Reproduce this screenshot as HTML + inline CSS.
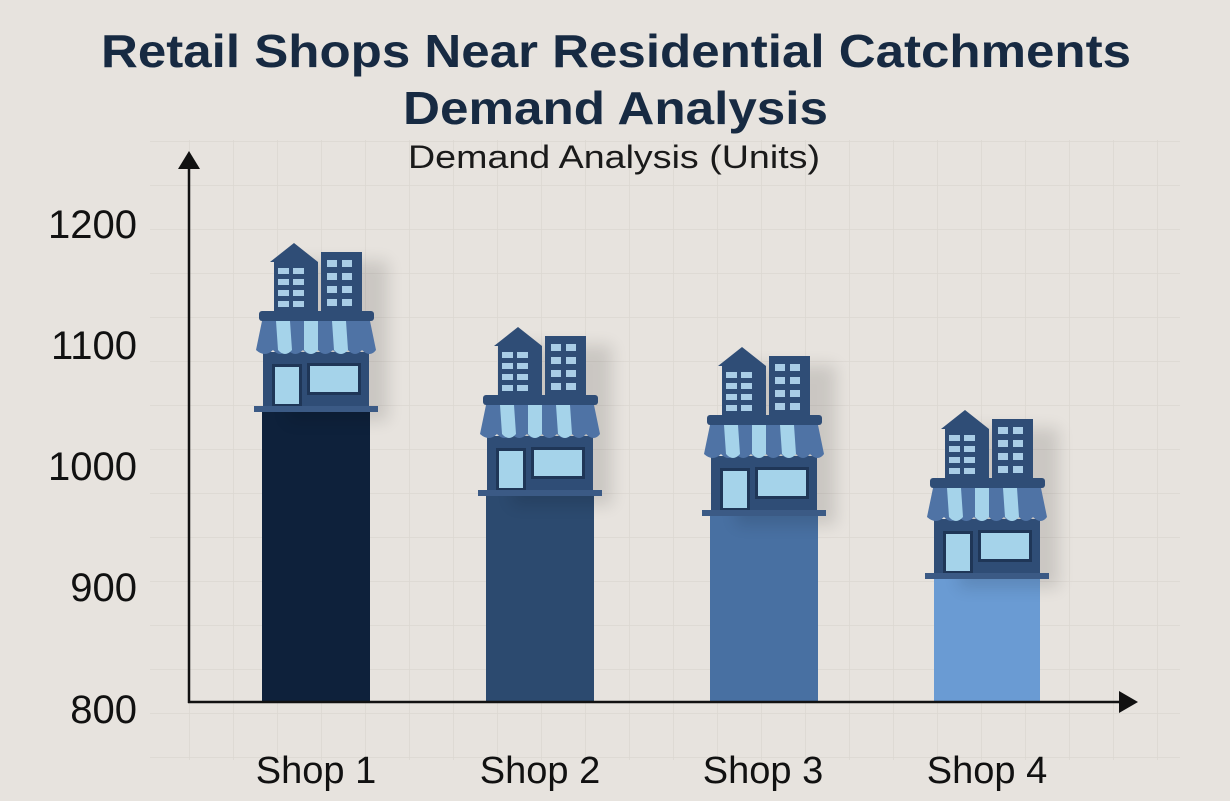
<!DOCTYPE html>
<html><head><meta charset="utf-8"><style>
html,body{margin:0;padding:0;background:#e7e3de;}
svg{display:block;font-family:"Liberation Sans","DejaVu Sans",sans-serif;}
</style></head><body>
<svg width="1230" height="801" viewBox="0 0 1230 801" xmlns="http://www.w3.org/2000/svg">
<defs>
<pattern id="grid" width="44" height="44" patternUnits="userSpaceOnUse" x="14" y="10">
<path d="M44 0V44M0 44H44" fill="none" stroke="#dcd7d1" stroke-width="1.5"/>
</pattern>
<filter id="sh" x="-30%" y="-30%" width="160%" height="160%"><feGaussianBlur stdDeviation="8"/></filter>
<g id="icon">
<rect x="274" y="255" width="100" height="160" fill="#000" opacity="0.12" filter="url(#sh)" transform="translate(14,6)"/>
<polygon points="270,262 294,243 318,262 318,312 274,312 274,262" fill="#2f4d76"/>
<g fill="#a9cde6">
<rect x="278" y="268" width="11" height="6"/><rect x="293" y="268" width="11" height="6"/>
<rect x="278" y="279" width="11" height="6"/><rect x="293" y="279" width="11" height="6"/>
<rect x="278" y="290" width="11" height="6"/><rect x="293" y="290" width="11" height="6"/>
<rect x="278" y="301" width="11" height="6"/><rect x="293" y="301" width="11" height="6"/>
</g>
<rect x="321" y="252" width="41" height="60" fill="#2f4d76"/>
<g fill="#a9cde6">
<rect x="327" y="260" width="10" height="7"/><rect x="342" y="260" width="10" height="7"/>
<rect x="327" y="273" width="10" height="7"/><rect x="342" y="273" width="10" height="7"/>
<rect x="327" y="286" width="10" height="7"/><rect x="342" y="286" width="10" height="7"/>
<rect x="327" y="299" width="10" height="7"/><rect x="342" y="299" width="10" height="7"/>
</g>
<rect x="263" y="352" width="106" height="56" fill="#2f4d76"/>
<rect x="259" y="311" width="115" height="10" rx="3" fill="#2f4d76"/>
<path d="M262,321 H370 L376,350 Q370,358 362,350 Q355,358 348,350 Q340,358 333,350 Q325,358 318,350 Q310,358 303,350 Q295,358 288,350 Q280,358 273,350 Q265,358 256,350 Z" fill="#4f73a5"/>
<path d="M276,321 H290 L292,350 Q285,358 278,350 Z M304,321 H318 L318,350 Q311,358 304,350 Z M332,321 H346 L348,350 Q341,358 334,350 Z" fill="#a5d3ea"/>
<rect x="272" y="364" width="30" height="42" fill="#1f3657"/>
<rect x="275" y="367" width="24" height="37" fill="#a5d3ea"/>
<rect x="307" y="363" width="54" height="32" fill="#1f3657"/>
<rect x="310" y="366" width="48" height="26" fill="#a5d3ea"/>
<rect x="254" y="406" width="124" height="6" fill="#3b5a85"/>
</g>
</defs>
<rect width="1230" height="801" fill="#e7e3de"/>
<rect x="150" y="140" width="1030" height="620" fill="url(#grid)"/>
<text x="101" y="67" textLength="1030" lengthAdjust="spacingAndGlyphs" font-size="46" font-weight="600" fill="#172a42">Retail Shops Near Residential Catchments</text>
<text x="403" y="124" textLength="425" lengthAdjust="spacingAndGlyphs" font-size="46" font-weight="600" fill="#172a42">Demand Analysis</text>
<text x="408" y="168" textLength="412" lengthAdjust="spacingAndGlyphs" font-size="32" fill="#1a1a1a">Demand Analysis (Units)</text>
<g font-size="40" fill="#111" text-anchor="end">
<text x="137" y="238">1200</text><text x="137" y="359">1100</text><text x="137" y="480">1000</text><text x="137" y="601">900</text><text x="137" y="723">800</text>
</g>
<rect x="262" y="408" width="108" height="294" fill="#0e213b"/>
<rect x="486" y="492" width="108" height="210" fill="#2c4a6f"/>
<rect x="710" y="512" width="108" height="190" fill="#4870a2"/>
<rect x="934" y="575" width="106" height="127" fill="#6a9bd3"/>
<use href="#icon"/>
<use href="#icon" transform="translate(224,84)"/>
<use href="#icon" transform="translate(448,104)"/>
<use href="#icon" transform="translate(671,167)"/>
<line x1="189" y1="168" x2="189" y2="703" stroke="#111" stroke-width="2.5"/>
<polygon points="189,151 178,169 200,169" fill="#111"/>
<line x1="188" y1="702" x2="1120" y2="702" stroke="#111" stroke-width="2.5"/>
<polygon points="1138,702 1119,691 1119,713" fill="#111"/>
<g font-size="38" fill="#111" text-anchor="middle">
<text x="316" y="783">Shop 1</text><text x="540" y="783">Shop 2</text><text x="763" y="783">Shop 3</text><text x="987" y="783">Shop 4</text>
</g>
</svg>
</body></html>
